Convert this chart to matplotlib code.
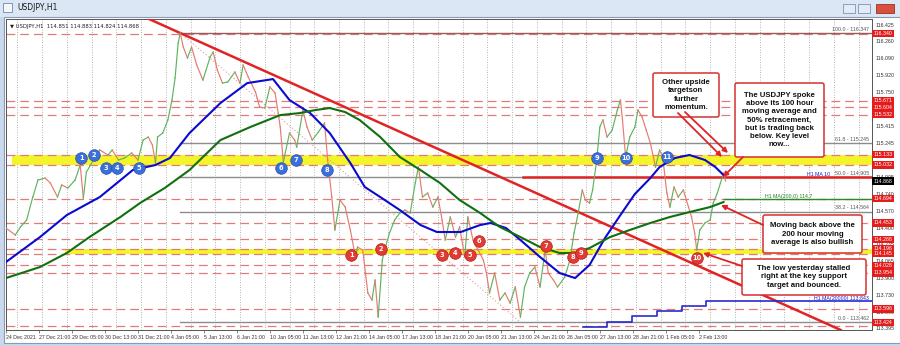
import matplotlib.pyplot as plt
from matplotlib.patches import Rectangle, FancyBboxPatch
from matplotlib.transforms import blended_transform_factory

# hourly bars counted from the first bar on 24 Dec 2021
price_bar = [0, 9, 14, 20, 26, 31, 38, 43, 50, 54, 60, 67, 72, 75, 78, 86, 91, 99,
             103, 109, 115, 122, 128, 133, 138, 142, 145, 147, 152, 157, 161, 164,
             167, 169, 172, 176, 180, 185, 191, 198, 201, 205, 210, 215, 222, 227,
             230, 235, 242, 246, 251, 256, 261, 264, 266, 269, 275, 280, 282, 288,
             292, 297, 303, 309, 312, 316, 319, 324, 329, 334, 339, 341, 346, 351,
             355, 358, 361, 365, 368, 372, 377, 382, 387, 392, 397, 400, 404, 409,
             414, 419, 423, 426, 431, 436, 440, 445, 448, 453, 458, 463, 466, 469,
             474, 479, 484, 489, 494, 499, 503, 508, 513, 518, 523, 526, 531, 535,
             542, 547, 551, 555, 559, 562, 566, 569, 573, 576, 579, 583, 588, 593,
             596, 598, 601, 605, 610, 613, 617, 621, 625, 630, 634, 637, 641, 644,
             648, 652, 657, 662, 665, 668, 670, 673, 678, 683, 686, 690, 693, 696,
             698]
price = [114.401, 114.331, 114.411, 114.481, 114.710, 114.879, 114.899, 114.849,
         114.710, 114.830, 114.800, 114.879, 115.029, 114.700, 114.959, 115.099,
         115.179, 115.129, 115.179, 115.079, 115.099, 115.149, 115.079, 115.278,
         115.308, 115.228, 115.049, 115.308, 115.348, 115.478, 115.677, 115.896,
         116.245, 116.345, 116.205, 116.096, 116.205, 116.026, 115.876, 116.106,
         116.156, 115.976, 115.846, 115.856, 115.956, 115.846, 116.026, 115.906,
         115.757, 115.607, 115.597, 115.807, 115.747, 115.547, 115.408, 115.059,
         115.348, 115.278, 115.208, 115.577, 115.408, 115.278, 115.358, 115.448,
         115.079, 114.710, 114.381, 114.680, 114.610, 114.381, 114.112, 114.211,
         114.181, 113.753, 113.683, 113.882, 113.513, 114.082, 114.211, 114.351,
         114.481, 114.550, 114.580, 114.550, 114.849, 115.009, 114.710, 114.750,
         114.610, 114.710, 114.481, 114.281, 114.511, 114.311, 114.411, 114.112,
         114.511, 114.281, 114.181, 114.082, 113.952, 113.753, 113.952, 113.683,
         113.753, 113.653, 113.813, 113.513, 113.813, 113.952, 114.012, 113.813,
         114.181, 113.952, 113.882, 113.813, 113.912, 114.082, 114.351, 114.550,
         114.780, 114.680, 114.650, 114.780, 115.079, 115.408, 115.478, 115.308,
         115.378, 115.577, 115.677, 115.478, 115.109, 115.308, 115.408, 115.577,
         115.508, 115.378, 115.248, 115.009, 115.179, 115.109, 114.750, 114.610,
         114.810, 114.710, 114.780, 114.610, 114.511, 114.351, 114.181, 114.381,
         114.451, 114.481, 114.650, 114.750, 114.849, 114.949, 114.868]

ma100_bar = [0, 33, 59, 91, 123, 145, 159, 178, 208, 234, 259, 275, 295, 314, 334,
             348, 363, 382, 402, 418, 441, 460, 470, 485, 499, 518, 537, 552, 566,
             581, 596, 610, 625, 634, 649, 663, 678, 688, 696]
ma100 = [114.062, 114.311, 114.530, 114.710, 114.979, 115.029, 115.099, 115.348,
         115.647, 115.846, 115.886, 115.677, 115.547, 115.348, 115.049, 114.810,
         114.710, 114.580, 114.431, 114.361, 114.361, 114.431, 114.451, 114.401,
         114.281, 114.112, 113.952, 113.902, 114.032, 114.301, 114.531, 114.740,
         114.899, 115.009, 115.099, 115.129, 115.079, 115.009, 114.929]

ma200_bar = [0, 33, 59, 81, 111, 130, 154, 178, 208, 237, 266, 285, 300, 314, 329,
             343, 363, 382, 402, 421, 440, 460, 479, 499, 518, 537, 552, 566, 586,
             605, 625, 644, 663, 683, 696]
ma200 = [113.902, 114.012, 114.152, 114.311, 114.511, 114.650, 114.800, 114.979,
         115.278, 115.408, 115.527, 115.547, 115.577, 115.597, 115.557, 115.478,
         115.308, 115.109, 114.979, 114.849, 114.680, 114.550, 114.411, 114.311,
         114.211, 114.152, 114.152, 114.201, 114.311, 114.381, 114.451, 114.511,
         114.560, 114.610, 114.660]

step_bar = [560, 583, 607, 631, 656, 679, 840]
step_val = [113.414, 113.466, 113.523, 113.573, 113.623, 113.676, 113.676]

levels = [116.340, 115.671, 115.604, 115.532, 115.133, 115.032, 114.694, 114.453,
          114.288, 114.196, 114.145, 114.028, 113.954, 113.596, 113.424]
fib_pct = ['100.0', '61.8', '50.0', '38.2', '0.0']
fib_val = [116.347, 115.245, 114.905, 114.564, 113.462]
price_ticks = [116.425, 116.260, 116.090, 115.920, 115.750, 115.415, 115.245,
               114.905, 114.740, 114.570, 114.400, 114.235, 114.065, 113.900,
               113.730, 113.560, 113.395]
last_price = 114.868

date_labels = ['24 Dec 2021', '27 Dec 21:00', '29 Dec 05:00', '30 Dec 13:00',
               '31 Dec 21:00', '4 Jan 05:00', '5 Jan 13:00', '6 Jan 21:00',
               '10 Jan 05:00', '11 Jan 13:00', '12 Jan 21:00', '14 Jan 05:00',
               '17 Jan 13:00', '18 Jan 21:00', '20 Jan 05:00', '21 Jan 13:00',
               '24 Jan 21:00', '26 Jan 05:00', '27 Jan 13:00', '28 Jan 21:00',
               '1 Feb 05:00', '2 Feb 13:00']

blue_bar = [73, 85, 97, 108, 129, 267, 281, 311, 573, 601, 641]
blue_val = [115.099, 115.129, 114.999, 114.999, 114.999, 114.999, 115.079, 114.979,
            115.099, 115.099, 115.109]
red_bar = [335, 364, 423, 436, 450, 459, 524, 550, 558, 670]
red_val = [114.132, 114.191, 114.132, 114.152, 114.132, 114.271, 114.221, 114.112,
           114.152, 114.102]

notes = [
    ('Other upside\ntargetson\nfurther\nmomentum.', (653, 73, 719, 117)),
    ('The USDJPY spoke\nabove its 100 hour\nmoving average and\n50% retracement,\n'
     'but is trading back\nbelow. Key level\nnow...', (735, 83, 824, 157)),
    ('Moving back above the\n200 hour moving\naverage is also bullish', (763, 215, 862, 253)),
    ('The low yesterday stalled\nright at the key support\ntarget and bounced.',
     (742, 259, 866, 295)),
]
arrows = [((678, 113), (722, 157)), ((685, 112), (728, 153)),
          ((743, 157), (723, 177)), ((763, 225), (721, 205)),
          ((742, 266), (703, 253))]

RED = '#e02424'
SMALL = dict(fontsize=3.8, family='Liberation Sans')
W, H = 900, 346

fig = plt.figure(figsize=(9, 3.46), dpi=100)

# window chrome, drawn in pixel units
bg = fig.add_axes([0, 0, 1, 1], zorder=0)
bg.set_xlim(0, W)
bg.set_ylim(H, 0)
bg.axis('off')
bg.add_patch(Rectangle((0, 0), W, H, color='#c9d8ec'))
bg.add_patch(Rectangle((0, 0), W, 16, color='#dbe7f5'))
bg.add_patch(Rectangle((4, 17), W - 4, 326, facecolor='white', edgecolor='#8a9bb0', lw=0.8))
bg.add_patch(Rectangle((3, 3), 9, 9, facecolor='#f4f7fb', edgecolor='#6f87a8', lw=0.6))
bg.text(17, 8, 'USDJPY,H1', fontsize=5.5, va='center', color='#1a1a1a')
bg.add_patch(Rectangle((843, 4), 12, 9, facecolor='#e3ebf6', edgecolor='#7d93b2', lw=0.6))
bg.add_patch(Rectangle((858, 4), 12, 9, facecolor='#e3ebf6', edgecolor='#7d93b2', lw=0.6))
bg.add_patch(Rectangle((876, 4), 18, 9, facecolor='#d9503f', edgecolor='#9c3024', lw=0.6))

ax = fig.add_axes([6 / W, (H - 330) / H, 866 / W, 311 / H], zorder=1)
ax.set_xlim(0, 840)
ax.set_ylim(113.384, 116.485)
ax.set_facecolor('white')
for s in ax.spines.values():
    s.set_color('#555555')
    s.set_linewidth(0.7)

# daily dotted grid
for gx in range(11, 840, 24):
    ax.axvline(gx, color='#9a9a9a', lw=0.6, ls=(0, (1, 2)), zorder=1)

# support / resistance bands and levels
ax.fill_between([6, 840], 115.032, 115.133, color='#f4f42a', zorder=1.5, lw=0)
ax.fill_between([57, 840], 114.145, 114.196, color='#f4f42a', zorder=1.5, lw=0)
for lv in levels:
    ax.axhline(lv, color='#e37a7a', lw=0.9, ls=(0, (7, 4)), zorder=2)

# fibonacci retracement
for pct, fv in zip(fib_pct, fib_val):
    col = '#9a5a5a' if pct == '100.0' else '#8c8c8c'
    ax.plot([169, 840], [fv, fv], color=col, lw=1.0, zorder=2.2)
    ax.text(837, fv + 0.012, '%s - %.3f' % (pct, fv), color='#555555',
            ha='right', va='bottom', zorder=6, **SMALL)
ax.plot([169, 499], [fib_val[0], fib_val[-1]], color='#e29a9a', lw=0.8,
        ls=(0, (1, 2)), zorder=2.2)

# trend line and key level
ax.axline((169, 116.345), (566, 114.510), color=RED, lw=1.8, zorder=3)
ax.plot([501, 840], [fib_val[2], fib_val[2]], color=RED, lw=1.8, zorder=3)
ax.plot([696, 840], [114.694, 114.694], color='#2a8a2a', lw=1.0, zorder=3)

# price path, coloured by direction
for i in range(1, len(price)):
    up = price[i] >= price[i - 1]
    ax.plot(price_bar[i - 1:i + 1], price[i - 1:i + 1],
            color='#5fb35f' if up else '#e57a6e', lw=0.85, zorder=4)

ax.plot(ma100_bar, ma100, color='#0a0ad0', lw=1.5, zorder=4.5)
ax.plot(ma200_bar, ma200, color='#107010', lw=1.5, zorder=4.5)
ax.step(step_bar, step_val, where='post', color='#2a2ad0', lw=1.2, zorder=4.5)

ax.text(799, 114.905, 'H1 MA 10', color='#2020c0', ha='right', va='bottom', zorder=6, **SMALL)
ax.text(782, 114.694, 'H1 MA(200,0) 114.7', color='#208020', ha='right',
        va='bottom', zorder=6, **SMALL)
ax.text(837, 113.676, 'H1 MA(20000) 113.843', color='#2020c0', ha='right',
        va='bottom', zorder=6, **SMALL)

# numbered touches
ax.scatter(blue_bar, blue_val, s=70, color='#3b6fdc', edgecolor='#2a4fa8', lw=0.5, zorder=7)
ax.scatter(red_bar, red_val, s=70, color='#e23a35', edgecolor='#b02020', lw=0.5, zorder=7)
for i, (bx, bv) in enumerate(zip(blue_bar, blue_val)):
    ax.text(bx, bv, str(i + 1), fontsize=4.8, color='white', ha='center', va='center',
            weight='bold', zorder=8)
for i, (rx, rv) in enumerate(zip(red_bar, red_val)):
    ax.text(rx, rv, str(i + 1), fontsize=4.8, color='white', ha='center', va='center',
            weight='bold', zorder=8)

# price scale on the right
ax.set_yticks([])
tr = blended_transform_factory(ax.transAxes, ax.transData)
for t in price_ticks:
    ax.text(1.004, t, '%.3f' % t, transform=tr, color='#333333',
            va='center', ha='left', **SMALL)
for lv in levels:
    ly = lv + 0.035 if lv == levels[-1] else lv
    ax.text(1.002, ly, '%.3f' % lv, transform=tr, color='white',
            va='center', ha='left', zorder=9,
            bbox=dict(boxstyle='square,pad=0.25', fc='#e41c1c', ec='none'), **SMALL)
ax.text(1.002, last_price, '%.3f' % last_price, transform=tr, color='white',
        va='center', ha='left', zorder=9,
        bbox=dict(boxstyle='square,pad=0.25', fc='black', ec='none'), **SMALL)

# time scale
ticks = [32 * k for k in range(len(date_labels))]
ax.set_xticks(ticks)
ax.set_xticklabels(date_labels, color='#333333', ha='left', **SMALL)
ax.tick_params(axis='x', length=2, width=0.5, pad=1.5, color='#555555')

ax.text(0.005, 0.985, '\u25bc USDJPY,H1  114.851 114.883 114.824 114.868',
        transform=ax.transAxes, fontsize=3.8, color='#222222', va='top')

# commentary boxes and arrows on top
fg = fig.add_axes([0, 0, 1, 1], zorder=2)
fg.set_xlim(0, W)
fg.set_ylim(H, 0)
fg.axis('off')
fg.patch.set_alpha(0)
for (x0, y0), (x1, y1) in arrows:
    fg.annotate('', xy=(x1, y1), xytext=(x0, y0),
                arrowprops=dict(arrowstyle='-|>', color=RED, lw=1.3,
                                mutation_scale=7, shrinkA=0, shrinkB=0))
for txt, (x0, y0, x1, y1) in notes:
    fg.add_patch(FancyBboxPatch((x0, y0), x1 - x0, y1 - y0,
                                boxstyle='round,pad=0,rounding_size=2',
                                fc='white', ec='#d43030', lw=1.1))
    fg.text((x0 + x1) / 2, (y0 + y1) / 2, txt, fontsize=5.6, weight='bold',
            ha='center', va='center', linespacing=1.25, color='#111111',
            family='Liberation Sans')

fig.savefig('out.png', dpi=100)
